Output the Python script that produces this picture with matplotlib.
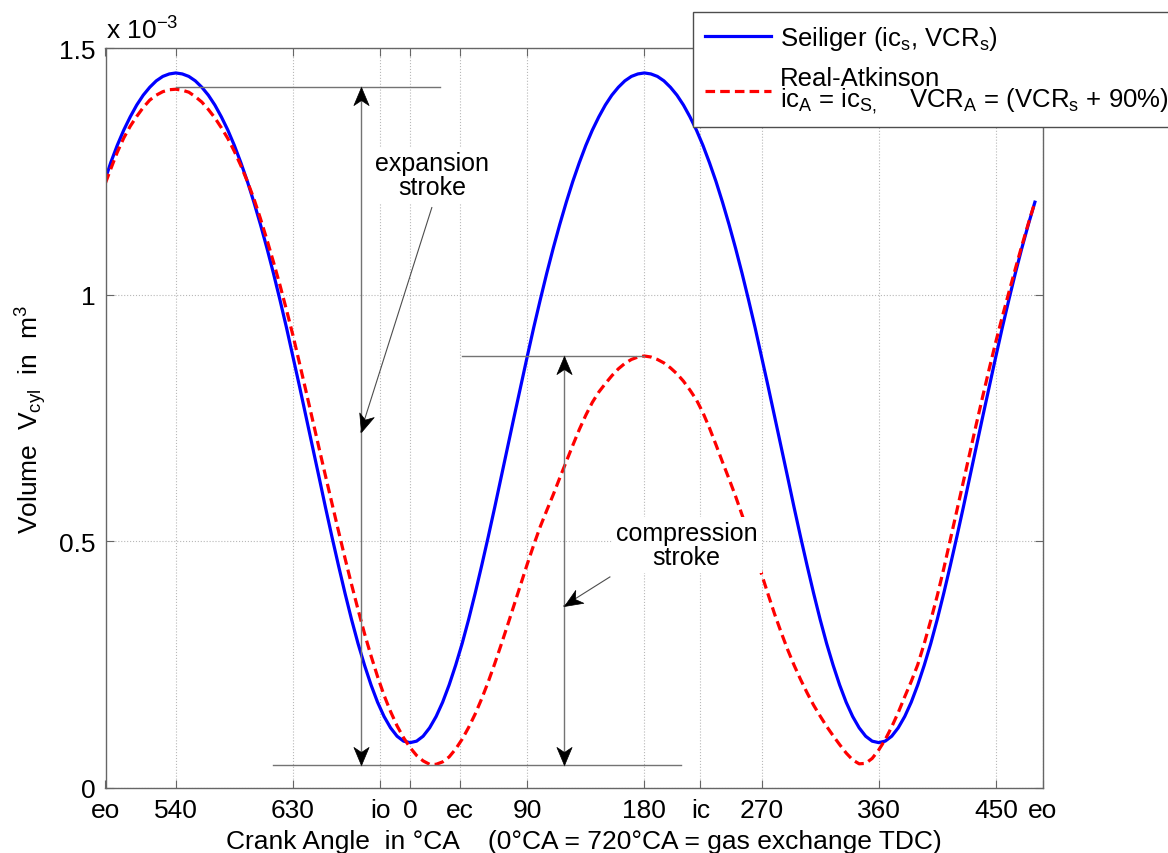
import numpy as np
import matplotlib
matplotlib.use('Agg')
import matplotlib.pyplot as plt
from matplotlib.path import Path
from matplotlib.markers import MarkerStyle
from matplotlib.transforms import Affine2D

plt.rcParams['font.family'] = ['Liberation Sans', 'DejaVu Sans']
plt.rcParams['mathtext.fontset'] = 'custom'
plt.rcParams['mathtext.rm'] = 'Liberation Sans'
plt.rcParams['mathtext.it'] = 'Liberation Sans'
plt.rcParams['mathtext.default'] = 'regular'
plt.rcParams['font.size'] = 19

# 크랭크 각도 (연속 각도, 720 = 0°CA)
crank = [486] + list(range(490, 1201, 5))

# 실린더 체적 (x 10^-3 m^3)
v_seiliger = [1.236,
              1.268, 1.303, 1.334, 1.361, 1.385, 1.405, 1.421, 1.434, 1.443, 1.448,
              1.450, 1.448, 1.443, 1.434, 1.421, 1.405, 1.385, 1.361, 1.334, 1.303,
              1.268, 1.230, 1.188, 1.143, 1.095, 1.044, 0.990, 0.934, 0.875, 0.815,
              0.754, 0.692, 0.631, 0.569, 0.509, 0.451, 0.395, 0.342, 0.293, 0.249,
              0.209, 0.174, 0.145, 0.122, 0.105, 0.095, 0.092, 0.095, 0.105, 0.122,
              0.145, 0.174, 0.209, 0.249, 0.293, 0.342, 0.395, 0.451, 0.509, 0.569,
              0.631, 0.692, 0.754, 0.815, 0.875, 0.934, 0.990, 1.044, 1.095, 1.143,
              1.188, 1.230, 1.268, 1.303, 1.334, 1.361, 1.385, 1.405, 1.421, 1.434,
              1.443, 1.448, 1.450, 1.448, 1.443, 1.434, 1.421, 1.405, 1.385, 1.361,
              1.334, 1.303, 1.268, 1.230, 1.188, 1.143, 1.095, 1.044, 0.990, 0.934,
              0.875, 0.815, 0.754, 0.692, 0.631, 0.569, 0.509, 0.451, 0.395, 0.342,
              0.293, 0.249, 0.209, 0.174, 0.145, 0.122, 0.105, 0.095, 0.092, 0.095,
              0.105, 0.122, 0.145, 0.174, 0.209, 0.249, 0.293, 0.342, 0.395, 0.451,
              0.509, 0.569, 0.631, 0.692, 0.754, 0.815, 0.875, 0.934, 0.990, 1.044,
              1.095, 1.143, 1.188]
v_atkinson = [1.227,
              1.255, 1.289, 1.318, 1.342, 1.362, 1.380, 1.395, 1.405, 1.412, 1.416,
              1.417, 1.415, 1.411, 1.402, 1.391, 1.376, 1.359, 1.339, 1.317, 1.291,
              1.262, 1.230, 1.195, 1.155, 1.112, 1.067, 1.020, 0.970, 0.918, 0.862,
              0.805, 0.747, 0.690, 0.633, 0.577, 0.521, 0.466, 0.413, 0.362, 0.313,
              0.268, 0.226, 0.188, 0.155, 0.126, 0.102, 0.082, 0.066, 0.055, 0.048,
              0.048, 0.053, 0.063, 0.079, 0.099, 0.123, 0.150, 0.181, 0.215, 0.252,
              0.291, 0.331, 0.372, 0.413, 0.454, 0.493, 0.530, 0.563, 0.595, 0.629,
              0.662, 0.695, 0.727, 0.756, 0.782, 0.803, 0.820, 0.836, 0.850, 0.861,
              0.869, 0.874, 0.876, 0.874, 0.869, 0.862, 0.852, 0.840, 0.825, 0.807,
              0.787, 0.761, 0.730, 0.696, 0.661, 0.627, 0.592, 0.554, 0.515, 0.475,
              0.434, 0.393, 0.353, 0.316, 0.281, 0.249, 0.220, 0.193, 0.168, 0.146,
              0.125, 0.106, 0.088, 0.071, 0.057, 0.049, 0.050, 0.060, 0.077, 0.098,
              0.124, 0.153, 0.185, 0.216, 0.250, 0.293, 0.340, 0.390, 0.445, 0.503,
              0.562, 0.621, 0.680, 0.738, 0.795, 0.851, 0.905, 0.956, 1.005, 1.053,
              1.100, 1.145, 1.188]

xtick_pos = [486, 540, 630, 697, 720, 758, 810, 900, 943, 990, 1080, 1170, 1206]
xtick_lbl = ['eo', '540', '630', 'io', '0', 'ec', '90', '180', 'ic', '270', '360', '450', 'eo']
ytick_pos = [0, 0.5, 1.0, 1.5]
ytick_lbl = ['0', '0.5', '1', '1.5']

# 행정 표시선
exp_top, comp_top, stroke_bot = 1.421, 0.876, 0.047
exp_x, comp_x = 682, 838


def head(angle):
    verts = [(0, 0), (0.42, -1), (0, -0.72), (-0.42, -1), (0, 0)]
    codes = [Path.MOVETO, Path.LINETO, Path.LINETO, Path.LINETO, Path.CLOSEPOLY]
    return MarkerStyle(Path(verts, codes), transform=Affine2D().rotate_deg(angle))


fig = plt.figure(figsize=(11.68, 8.54), dpi=100)
ax = fig.add_axes([105.5 / 1168, 1 - 789 / 854, 937.2 / 1168, 739.7 / 854])

ax.plot(crank, v_seiliger, color='#0000ff', lw=2.3, label='Seiliger (ic$_s$, VCR$_s$)')
ax.plot(crank, v_atkinson, color='#ff0000', lw=2.3, ls=(0, (3, 1.6)),
        label='Real-Atkinson\nic$_A$ = ic$_{S,}$    VCR$_A$ = (VCR$_s$ + 90%)')

ax.set_xlim(486, 1206)
ax.set_ylim(0, 1.5)
ax.set_xticks(xtick_pos)
ax.set_xticklabels(xtick_lbl)
ax.set_yticks(ytick_pos)
ax.set_yticklabels(ytick_lbl)
ax.grid(True, linestyle=':', color='0.72', linewidth=0.8)
ax.tick_params(direction='in', length=6, width=0.8, color='0.4', top=True, right=True, pad=7)
for s in ax.spines.values():
    s.set_color('0.4')
    s.set_linewidth(1.0)

# 기준선
gray = '0.45'
ax.plot([540, 743], [exp_top, exp_top], color=gray, lw=1)
ax.plot([760, 900], [comp_top, comp_top], color=gray, lw=1)
ax.plot([615, 928], [stroke_bot, stroke_bot], color=gray, lw=1)

# 양방향 화살표
for xx, top in [(exp_x, exp_top), (comp_x, comp_top)]:
    ax.plot([xx, xx], [top, stroke_bot], color=gray, lw=1)
    ax.plot([xx], [top], marker=head(0), ms=26, color='k', mew=0.5, ls='none')
    ax.plot([xx], [stroke_bot], marker=head(180), ms=26, color='k', mew=0.5, ls='none')

# 텍스트
bb = dict(fc='white', ec='none', pad=3)
ax.text(737, 1.243, 'expansion\nstroke', ha='center', va='center', linespacing=1.0,
        fontsize=18, bbox=bb)
ax.text(932.5, 0.493, 'compression\nstroke', ha='center', va='center', linespacing=1.0,
        fontsize=18, bbox=bb)

# 지시 화살표
for (x0, y0), (x1, y1) in [((736.7, 1.177), (exp_x, 0.722)), ((873.5, 0.428), (comp_x, 0.369))]:
    ax.plot([x0, x1], [y0, y1], color='0.3', lw=0.8)
    p0 = ax.transData.transform((x0, y0))
    p1 = ax.transData.transform((x1, y1))
    ang = np.degrees(np.arctan2(p1[1] - p0[1], p1[0] - p0[0]))
    ax.plot([x1], [y1], marker=head(ang - 90), ms=26, color='k', mew=0.5, ls='none')

ax.set_xlabel('Crank Angle  in °CA    (0°CA = 720°CA = gas exchange TDC)')
ax.xaxis.set_label_coords(0.51, -0.055)
ax.set_ylabel('Volume  V$_{cyl}$  in  m$^3$')
ax.yaxis.set_label_coords(-0.06, 0.5)

fig.text(106 / 1168, 1 - 40 / 854, 'x 10$^{-3}$', ha='left', va='baseline')

leg = ax.legend(loc='upper left', bbox_to_anchor=(693 / 1168, 1 - 13 / 854),
                bbox_transform=fig.transFigure, fancybox=False, edgecolor='0.3',
                framealpha=1, borderaxespad=0, handlelength=2.6, handletextpad=0.35,
                labelspacing=0.55, borderpad=0.45, fontsize=18.5)
leg.get_frame().set_linewidth(1.0)
leg.get_texts()[1].set_linespacing(0.8)

fig.savefig('out.png', dpi=100)
